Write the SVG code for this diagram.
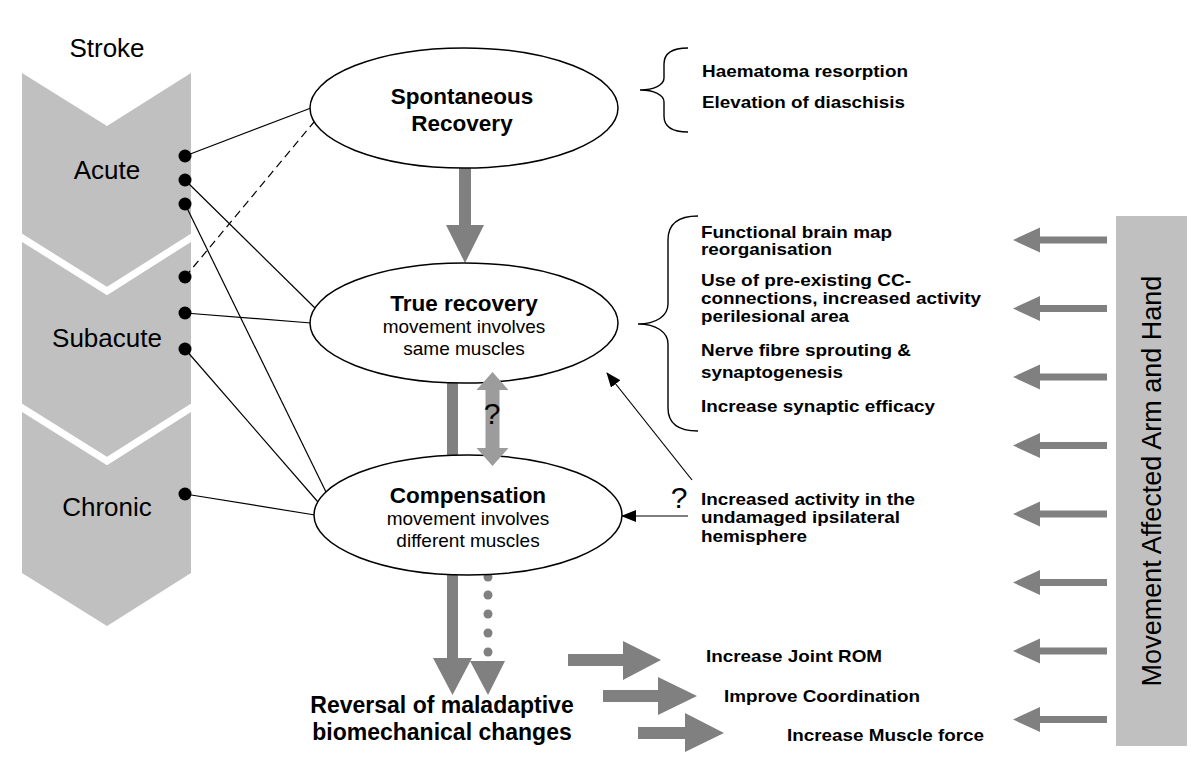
<svg xmlns="http://www.w3.org/2000/svg" width="1200" height="774" viewBox="0 0 1200 774">
<style>
  text { font-family: "Liberation Sans", Arial, sans-serif; fill: #000; }
  .stage { font-size: 26px; text-anchor: middle; }
  .vert { font-size: 27px; text-anchor: middle; }
  .title { font-size: 22.5px; font-weight: bold; text-anchor: middle; }
  .sub { font-size: 19px; text-anchor: middle; }
  .side { font-size: 17px; font-weight: bold; }
  .q { font-size: 30px; text-anchor: middle; }
  .node { fill: #fff; stroke: #000; stroke-width: 1.5; }
  .thin { stroke: #000; stroke-width: 1.2; fill: none; }
  .dash { stroke-dasharray: 8 5; }
  .dot { fill: #000; }
  .dark { fill: #808080; }
  .light { fill: #9c9c9c; }
  .brace { fill: none; stroke: #000; stroke-width: 1.4; }
</style>
<defs>
  <marker id="ah" markerWidth="15" markerHeight="12" refX="14" refY="6" orient="auto" markerUnits="userSpaceOnUse">
    <path d="M0,0 L15,6 L0,12 z" fill="#000"/>
  </marker>
  <polygon id="larrow" points="1107,236.5 1040,236.5 1040,227.5 1013,240 1040,252.5 1040,243.5 1107,243.5"/>
</defs>
<rect width="1200" height="774" fill="#fff"/>

<g id="timeline">
  <polygon points="22,73 107,126 191,73 191,573 107,626 22,573" fill="#c0c0c0"/>
  <polyline points="16,234 107,291 197,234" fill="none" stroke="#fff" stroke-width="7"/>
  <polyline points="16,404 107,461 197,404" fill="none" stroke="#fff" stroke-width="7"/>
  <text class="stage" x="107" y="57">Stroke</text>
  <text class="stage" x="107" y="179">Acute</text>
  <text class="stage" x="107" y="347">Subacute</text>
  <text class="stage" x="107" y="516">Chronic</text>
</g>

<g id="movement">
  <rect x="1116" y="216" width="71" height="530" fill="#c0c0c0"/>
  <text class="vert" transform="translate(1161,481) rotate(-90)" x="0" y="0">Movement Affected Arm and Hand</text>
</g>

<g id="connectors">
  <line class="thin" x1="185" y1="156" x2="311" y2="108"/>
  <line class="thin dash" x1="185" y1="277" x2="314" y2="122"/>
  <line class="thin" x1="185" y1="180" x2="315" y2="308"/>
  <line class="thin" x1="185" y1="313" x2="311" y2="323"/>
  <line class="thin" x1="185" y1="204" x2="326" y2="492"/>
  <line class="thin" x1="185" y1="349" x2="318" y2="502"/>
  <line class="thin" x1="185" y1="494" x2="315" y2="515"/>
  <!-- thick grey arrows -->
  <polygon class="dark" points="459,168 471,168 471,225 484,225 465,263 446,225 459,225"/>
  <rect class="dark" x="447" y="382" width="11" height="74"/>
  <polygon class="dark" points="447,575 458,575 458,658 472,658 452.5,695 433,658 447,658"/>
  <circle class="dark" cx="488" cy="577" r="4.5"/>
  <circle class="dark" cx="488" cy="595" r="4.5"/>
  <circle class="dark" cx="488" cy="614" r="4.5"/>
  <circle class="dark" cx="488" cy="633" r="4.5"/>
  <circle class="dark" cx="488" cy="652" r="4.5"/>
  <polygon class="dark" points="470,661 505,661 488,695"/>
  <!-- right arrows -->
  <polygon class="dark" points="568,654 623,654 623,641 661,660 623,680 623,666 568,666"/>
  <polygon class="dark" points="603,690 658,690 658,677 697,696 658,715 658,702 603,702"/>
  <polygon class="dark" points="638,727 685,727 685,713 724,733 685,752 685,739 638,739"/>
  <!-- left arrows from movement bar -->
  <g class="dark">
    <use href="#larrow"/>
    <use href="#larrow" y="68.5"/>
    <use href="#larrow" y="137"/>
    <use href="#larrow" y="205.5"/>
    <use href="#larrow" y="274"/>
    <use href="#larrow" y="342.5"/>
    <use href="#larrow" y="411"/>
    <use href="#larrow" y="479.5"/>
  </g>
  <!-- black arrows -->
  <line class="thin" x1="692" y1="480" x2="607" y2="373" marker-end="url(#ah)"/>
  <line class="thin" x1="688" y1="516" x2="622" y2="516" marker-end="url(#ah)"/>
</g>

<g id="dots">
  <circle class="dot" cx="185" cy="156" r="6.5"/>
  <circle class="dot" cx="185" cy="180" r="6.5"/>
  <circle class="dot" cx="185" cy="204" r="6.5"/>
  <circle class="dot" cx="185" cy="277" r="6.5"/>
  <circle class="dot" cx="185" cy="313" r="6.5"/>
  <circle class="dot" cx="185" cy="349" r="6.5"/>
  <circle class="dot" cx="185" cy="494" r="6.5"/>
</g>

<g id="spontaneous">
  <ellipse class="node" cx="464" cy="108" rx="154" ry="60"/>
  <text class="title" x="462" y="104">Spontaneous</text>
  <text class="title" x="462" y="131">Recovery</text>
</g>

<g id="true-recovery">
  <ellipse class="node" cx="464" cy="323" rx="154" ry="60"/>
  <text class="title" x="464" y="311">True recovery</text>
  <text class="sub" x="464" y="333">movement involves</text>
  <text class="sub" x="464" y="355">same muscles</text>
</g>

<g id="compensation">
  <ellipse class="node" cx="468" cy="515" rx="154" ry="60"/>
  <text class="title" x="468" y="503">Compensation</text>
  <text class="sub" x="468" y="525">movement involves</text>
  <text class="sub" x="468" y="547">different muscles</text>
</g>

<g id="double-arrow">
  <polygon class="light" points="492.5,372 508.5,390 499.5,390 499.5,448 508.5,448 492.5,466 476.5,448 485.5,448 485.5,390 476.5,390"/>
  <text class="q" x="492" y="424">?</text>
</g>

<g id="reversal">
  <text class="title" x="442" y="713" style="font-size:23px">Reversal of maladaptive</text>
  <text class="title" x="442" y="740" style="font-size:23px">biomechanical changes</text>
</g>

<g id="spontaneous-mechanisms">
  <path class="brace" d="M688,48 C672,48 664,54 664,64 L664,78 C664,85 654,90 640,90 C654,90 664,95 664,102 L664,116 C664,126 672,132 688,132"/>
  <text class="side" x="702" y="77" textLength="206" lengthAdjust="spacingAndGlyphs">Haematoma resorption</text>
  <text class="side" x="702" y="108" textLength="203" lengthAdjust="spacingAndGlyphs">Elevation of diaschisis</text>
</g>

<g id="true-mechanisms">
  <path class="brace" d="M698,216 C678,216 668,224 668,240 L668,304 C668,316 656,324 638,324 C656,324 668,332 668,344 L668,408 C668,424 678,431 698,431"/>
  <text class="side" x="701" y="238" textLength="191" lengthAdjust="spacingAndGlyphs">Functional brain map</text>
  <text class="side" x="701" y="255" textLength="131" lengthAdjust="spacingAndGlyphs">reorganisation</text>
  <text class="side" x="701" y="286" textLength="210" lengthAdjust="spacingAndGlyphs">Use of pre-existing CC-</text>
  <text class="side" x="701" y="304" textLength="280" lengthAdjust="spacingAndGlyphs">connections, increased activity</text>
  <text class="side" x="701" y="322" textLength="148" lengthAdjust="spacingAndGlyphs">perilesional area</text>
  <text class="side" x="701" y="356" textLength="210" lengthAdjust="spacingAndGlyphs">Nerve fibre sprouting &amp;</text>
  <text class="side" x="701" y="378" textLength="142" lengthAdjust="spacingAndGlyphs">synaptogenesis</text>
  <text class="side" x="701" y="412" textLength="234" lengthAdjust="spacingAndGlyphs">Increase synaptic efficacy</text>
</g>

<g id="ipsilateral">
  <text class="q" x="679" y="508">?</text>
  <text class="side" x="701" y="505" textLength="214" lengthAdjust="spacingAndGlyphs">Increased activity in the</text>
  <text class="side" x="701" y="523" textLength="199" lengthAdjust="spacingAndGlyphs">undamaged ipsilateral</text>
  <text class="side" x="701" y="542" textLength="106" lengthAdjust="spacingAndGlyphs">hemisphere</text>
</g>

<g id="biomech">
  <text class="side" x="706" y="662" textLength="176" lengthAdjust="spacingAndGlyphs">Increase Joint ROM</text>
  <text class="side" x="724" y="702" textLength="196" lengthAdjust="spacingAndGlyphs">Improve Coordination</text>
  <text class="side" x="787" y="741" textLength="197" lengthAdjust="spacingAndGlyphs">Increase Muscle force</text>
</g>
</svg>
